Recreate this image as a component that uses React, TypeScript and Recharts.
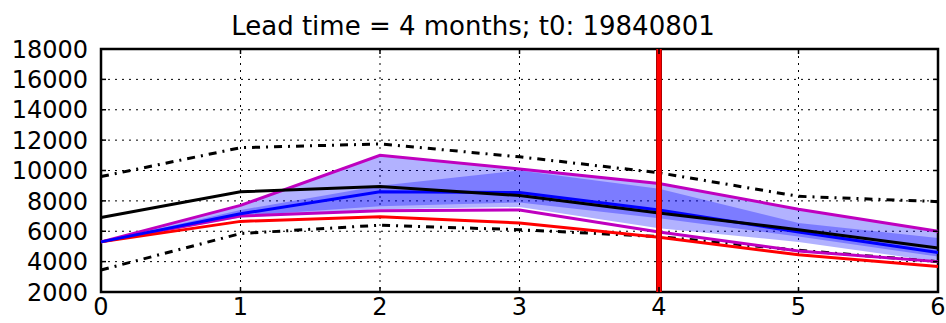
import React from 'react';
import {
  ComposedChart,
  Line,
  Area,
  XAxis,
  YAxis,
  CartesianGrid,
  ReferenceLine,
  ReferenceArea,
} from 'recharts';

const leadMonths = [0, 1, 2, 3, 4, 5, 6];
const xTicks = [0, 1, 2, 3, 4, 5, 6];
const yTicks = [2000, 4000, 6000, 8000, 10000, 12000, 14000, 16000, 18000];

const meanLine = [6900, 8600, 8950, 8350, 7200, 6100, 4900];
const medianLine = [5300, 7150, 8600, 8550, 7400, 5950, 4600];
const maxLine = [5300, 7700, 11000, 10100, 9150, 7450, 6000];
const minLine = [5300, 7000, 7350, 7400, 5950, 4700, 4000];
const redLine = [5300, 6650, 6950, 6550, 5600, 4450, 3680];
const upperDashDot = [9600, 11500, 11750, 10900, 9850, 8300, 7950];
const lowerDashDot = [3450, 5850, 6400, 6100, 5650, 4750, 4000];
const outerLow = [5300, 6900, 7450, 7600, 6200, 5300, 4000];
const outerHigh = [5300, 7650, 11000, 10100, 9150, 7400, 6000];
const innerLow = [5300, 7000, 7650, 7900, 6850, 5650, 4330];
const innerHigh = [5300, 7400, 9000, 10000, 8800, 6550, 5550];
const verticalMarker = 4;

const title = 'Lead time = 4 months; t0: 19840801';

const data = leadMonths.map((m, i) => ({
  m,
  mean: meanLine[i],
  median: medianLine[i],
  max: maxLine[i],
  min: minLine[i],
  red: redLine[i],
  up: upperDashDot[i],
  lo: lowerDashDot[i],
  outer: [outerLow[i], outerHigh[i]],
  inner: [innerLow[i], innerHigh[i]],
}));

const W = 946;
const H = 323;
const MARGIN = { top: 49, right: 8, bottom: 0, left: 6 };
const YW = 95;
const XH = 31;
const PLOT_W = W - MARGIN.left - YW - MARGIN.right;
const PLOT_H = H - MARGIN.top - MARGIN.bottom - XH;
const FONT = 'DejaVu Sans, Verdana, sans-serif';
const TICK_FS = 24;
const Y_MARGIN = 13;
const X_MARGIN = 6;
const TL = 5;
const LW = 3;

const YTick = (props: any) => {
  const { x, y, payload } = props;
  const left = x + Y_MARGIN;
  const right = left + PLOT_W;
  return (
    <g>
      <line x1={left} x2={left + TL} y1={y} y2={y} stroke="#000" strokeWidth={1.5} />
      <line x1={right - TL} x2={right} y1={y} y2={y} stroke="#000" strokeWidth={1.5} />
      <text x={x} y={y} dy="0.36em" textAnchor="end" fontSize={TICK_FS} fontFamily={FONT} fill="#000">
        {payload.value}
      </text>
    </g>
  );
};

const XTick = (props: any) => {
  const { x, y, payload } = props;
  const bottom = y - X_MARGIN;
  const top = bottom - PLOT_H;
  return (
    <g>
      <line x1={x} x2={x} y1={bottom} y2={bottom - TL} stroke="#000" strokeWidth={1.5} />
      <line x1={x} x2={x} y1={top} y2={top + TL} stroke="#000" strokeWidth={1.5} />
      <text x={x} y={y} dy="0.72em" textAnchor="middle" fontSize={TICK_FS} fontFamily={FONT} fill="#000">
        {payload.value}
      </text>
    </g>
  );
};

export default function App() {
  return (
    <div style={{ position: 'absolute', left: 0, top: 0, width: W, height: H, background: '#fff' }}>
      <div
        style={{
          position: 'absolute',
          left: 0,
          top: 11,
          width: W,
          textAlign: 'center',
          fontFamily: FONT,
          fontSize: 26,
          lineHeight: '30px',
          color: '#000',
        }}
      >
        {title}
      </div>
      <ComposedChart width={W} height={H} data={data} margin={MARGIN}>
        <CartesianGrid stroke="#000" strokeDasharray="2 5" strokeWidth={1} />
        <XAxis
          dataKey="m"
          type="number"
          domain={[0, 6]}
          ticks={xTicks}
          height={XH}
          axisLine={false}
          tickLine={false}
          tickSize={0}
          tickMargin={X_MARGIN}
          tick={<XTick />}
          interval={0}
        />
        <YAxis
          type="number"
          domain={[2000, 18000]}
          ticks={yTicks}
          width={YW}
          axisLine={false}
          tickLine={false}
          tickSize={0}
          tickMargin={Y_MARGIN}
          tick={<YTick />}
          interval={0}
        />
        <Area dataKey="outer" stroke="none" fill="#0000ff" fillOpacity={0.3} isAnimationActive={false} />
        <Area dataKey="inner" stroke="none" fill="#0000ff" fillOpacity={0.3} isAnimationActive={false} />
        <Line dataKey="up" stroke="#000" strokeWidth={LW} strokeDasharray="8 6 2 6" dot={false} isAnimationActive={false} />
        <Line dataKey="lo" stroke="#000" strokeWidth={LW} strokeDasharray="8 6 2 6" dot={false} isAnimationActive={false} />
        <Line dataKey="max" stroke="#bf00bf" strokeWidth={LW} dot={false} isAnimationActive={false} />
        <Line dataKey="min" stroke="#bf00bf" strokeWidth={LW} dot={false} isAnimationActive={false} />
        <Line dataKey="red" stroke="#ff0000" strokeWidth={LW} dot={false} isAnimationActive={false} />
        <Line dataKey="median" stroke="#0000ff" strokeWidth={LW} dot={false} isAnimationActive={false} />
        <Line dataKey="mean" stroke="#000" strokeWidth={LW} dot={false} isAnimationActive={false} />
        <ReferenceLine x={verticalMarker} stroke="#b00000" strokeWidth={6} />
        <ReferenceLine x={verticalMarker} stroke="#ff0000" strokeWidth={4} />
        <ReferenceArea x1={0} x2={6} y1={2000} y2={18000} fill="none" stroke="#000" strokeWidth={2.5} ifOverflow="visible" />
      </ComposedChart>
    </div>
  );
}
